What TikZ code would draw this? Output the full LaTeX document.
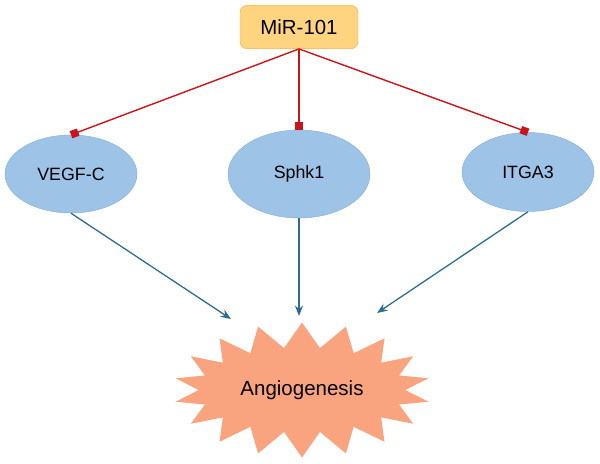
\documentclass[tikz,border=0pt]{standalone}
\usepackage{fontspec}
\setmainfont{Liberation Sans}
\usetikzlibrary{shapes.geometric,shapes.symbols,arrows.meta}

\definecolor{boksgul}{HTML}{FFD480}
\definecolor{boksrand}{HTML}{F0B24A}
\definecolor{lysblaa}{HTML}{9DC3E6}
\definecolor{blaarand}{HTML}{88B2DA}
\definecolor{laks}{HTML}{FAA37F}
\definecolor{hemrod}{HTML}{C8151B}
\definecolor{pilblaa}{HTML}{2C6C94}

\tikzset{
	gen/.style={draw=blaarand, fill=lysblaa, ellipse, font=\fontsize{15.2}{18}\selectfont},
	hemmer/.style={hemrod, line width=1.2pt, -{Square[length=6.5pt,width=6.5pt]}},
	aktiverer/.style={pilblaa, line width=1.1pt, -{Stealth[length=9pt,width=7pt,inset=3pt]}}
}

\begin{document}
\begin{tikzpicture}[x=0.03cm, y=-0.03cm]

	\useasboundingbox (0,0) rectangle (600,463);

	% MiR-boks
	\node [draw=boksrand, fill=boksgul, rectangle, rounded corners=6pt, minimum width=3.54cm, minimum height=1.3cm, font=\fontsize{17.4}{20}\selectfont] (mir) at (299,27) {MiR-101};

	% Maalgener
	\node [gen, minimum width=3.96cm, minimum height=2.34cm] (vegf) at (71,174) {VEGF-C};
	\node [gen, minimum width=4.26cm, minimum height=2.64cm] (sphk) at (299,174) {Sphk1};
	\node [gen, minimum width=3.96cm, minimum height=2.37cm] (itga) at (528,172) {ITGA3};

	% Angiogenese
	\node [starburst, fill=laks, starburst points=18, starburst point height=0.75cm, random starburst=0, minimum width=7.7cm, minimum height=4.05cm, font=\fontsize{17.5}{20}\selectfont] (angio) at (302,390) {Angiogenesis};

	% Pilspisser
	\coordinate (pv) at (231,319);
	\coordinate (ps) at (299,316);
	\coordinate (pi) at (377,313);

	% Hemming
	\draw [hemmer] (mir.south) -- (vegf.north);
	\draw [hemmer] (mir.south) -- (sphk.north);
	\draw [hemmer] (mir.south) -- (itga.north);

	% Aktivering
	\draw [aktiverer] (vegf.south) -- (pv);
	\draw [aktiverer] (sphk.south) -- (ps);
	\draw [aktiverer] (itga.south) -- (pi);

\end{tikzpicture}
\end{document}
